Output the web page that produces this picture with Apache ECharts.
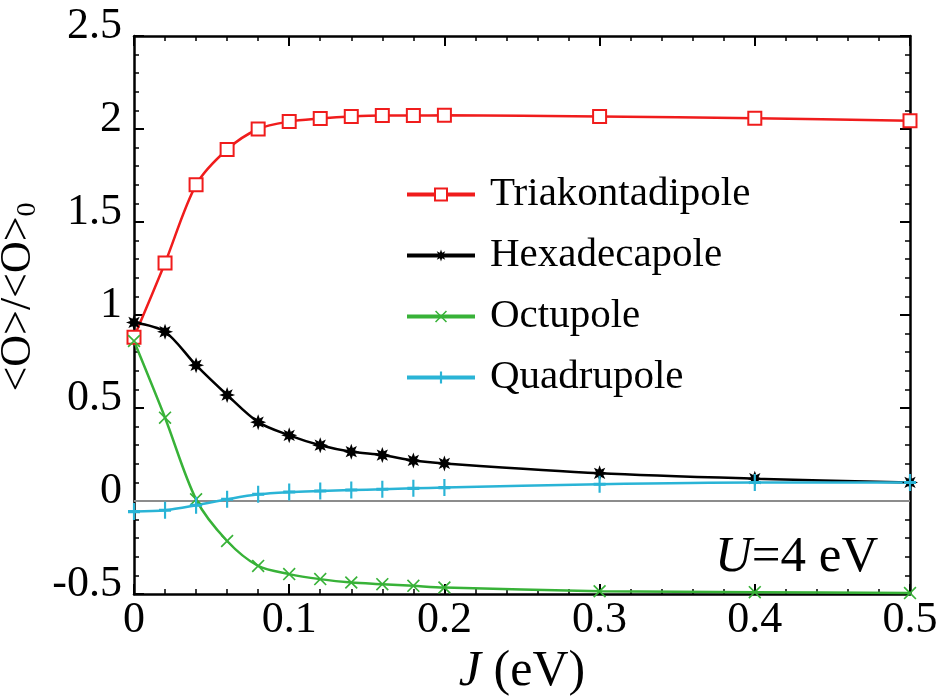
<!DOCTYPE html>
<html>
<head>
<meta charset="utf-8">
<script src="https://cdn.jsdelivr.net/npm/echarts@6/dist/echarts.min.js"></script>
<style>
  html, body { margin: 0; padding: 0; background: #fff; }
  #chart { width: 948px; height: 698px; }
</style>
</head>
<body>
<div id="chart"></div>
<script>
// Coupling strength J (eV)
const jValues = [0, 0.02, 0.04, 0.06, 0.08, 0.1, 0.12, 0.14, 0.16, 0.18, 0.2, 0.3, 0.4, 0.5];

// Normalised multipole order parameters <O>/<O>0
const triakontadipole = [0.88, 1.28, 1.70, 1.89, 2.00, 2.04, 2.056, 2.067, 2.072, 2.072, 2.074, 2.067, 2.058, 2.045];
const hexadecapole   = [0.96, 0.91, 0.73, 0.57, 0.424, 0.353, 0.30, 0.265, 0.247, 0.218, 0.202, 0.149, 0.12, 0.10];
const octupole       = [0.86, 0.448, 0.009, -0.215, -0.349, -0.393, -0.42, -0.438, -0.447, -0.456, -0.465, -0.485, -0.49, -0.495];
const quadrupole     = [-0.057, -0.05, -0.023, 0.009, 0.036, 0.048, 0.054, 0.059, 0.063, 0.068, 0.072, 0.09, 0.099, 0.099];

const seriesNames = ['Triakontadipole', 'Hexadecapole', 'Octupole', 'Quadrupole'];
const xTicks = { min: 0, max: 0.5, step: 0.1 };
const yTicks = { min: -0.5, max: 2.5, step: 0.5 };

const serif = 'Liberation Serif, Times New Roman, serif';

const starPath = 'path://M20,10 L14.62,11.91 L17.07,17.07 L11.91,14.62 L10,20 L8.09,14.62 L2.93,17.07 L5.38,11.91 L0,10 L5.38,8.09 L2.93,2.93 L8.09,5.38 L10,0 L11.91,5.38 L17.07,2.93 L14.62,8.09 Z';
const crossPath = 'path://M0,1.8 L1.8,0 L10,8.2 L18.2,0 L20,1.8 L11.8,10 L20,18.2 L18.2,20 L10,11.8 L1.8,20 L0,18.2 L8.2,10 Z';
const plusPath = 'path://M8.2,0 L11.8,0 L11.8,8.2 L20,8.2 L20,11.8 L11.8,11.8 L11.8,20 L8.2,20 L8.2,11.8 L0,11.8 L0,8.2 L8.2,8.2 Z';

function pairs(vals) { return jValues.map((x, i) => [x, vals[i]]); }

function fmt(v) { return String(Math.round(v * 10) / 10); }

function lineSeries(name, vals, color, symbol, size, hollow) {
  return {
    name: name,
    type: 'line',
    data: pairs(vals),
    smooth: 0.3,
    symbol: symbol,
    symbolSize: size,
    showAllSymbol: true,
    lineStyle: { color: color, width: 2.5 },
    itemStyle: hollow
      ? { color: '#fff', borderColor: color, borderWidth: 2 }
      : { color: color, borderWidth: 0 },
    emphasis: { disabled: true },
    z: 3
  };
}

function makeAxis(kind, pos, showLabels, t) {
  const label = {
    show: showLabels,
    fontFamily: serif, fontSize: 44, color: '#000',
    margin: kind === 'x' ? 4 : 12,
    formatter: fmt
  };
  if (kind === 'y') {
    // value labels sit a little above their tick marks
    label.formatter = v => '{v|' + fmt(v) + '}';
    label.rich = { v: { fontFamily: serif, fontSize: 44, color: '#000', padding: [0, 0, 20, 0] } };
  }
  return {
    type: 'value',
    position: pos,
    min: t.min, max: t.max, interval: t.step,
    axisLine: { show: true, onZero: false, lineStyle: { color: '#000', width: 2.5 } },
    axisTick: { show: true, inside: true, length: 10, lineStyle: { color: '#000', width: 2 } },
    minorTick: { show: true, splitNumber: 5, length: 5, lineStyle: { color: '#000', width: 1.5 } },
    splitLine: { show: false },
    axisLabel: label
  };
}

const chart = echarts.init(document.getElementById('chart'));

const xBottom = makeAxis('x', 'bottom', true, xTicks);
xBottom.name = '{i|J}{n| (eV)}';
xBottom.nameLocation = 'middle';
xBottom.nameGap = 52;
xBottom.nameTextStyle = {
  rich: {
    i: { fontFamily: serif, fontStyle: 'italic', fontSize: 50, color: '#000' },
    n: { fontFamily: serif, fontSize: 50, color: '#000' }
  }
};

const yLeft = makeAxis('y', 'left', true, yTicks);
yLeft.name = '{m|<O>/<O>}{s|0}';
yLeft.nameLocation = 'middle';
yLeft.nameRotate = 90;
yLeft.nameGap = 55;
yLeft.nameTextStyle = {
  padding: [0, 0, 0, 36],
  rich: {
    m: { fontFamily: serif, fontSize: 44, color: '#000' },
    s: { fontFamily: serif, fontSize: 28, color: '#000', padding: [18, 0, 0, 0] }
  }
};

chart.setOption({
  animation: false,
  backgroundColor: '#fff',
  grid: { left: 134, right: 38, top: 36, bottom: 104, outerBoundsMode: 'none', containLabel: false },
  xAxis: [xBottom, makeAxis('x', 'top', false, xTicks)],
  yAxis: [yLeft, makeAxis('y', 'right', false, yTicks)],
  legend: {
    orient: 'vertical',
    left: 400,
    top: 169,
    itemWidth: 68,
    itemHeight: 15,
    itemGap: 20,
    data: seriesNames,
    lineStyle: { width: 4 },
    textStyle: { fontFamily: serif, fontSize: 41, color: '#000', lineHeight: 41, padding: [0, 0, 0, 10] }
  },
  series: [
    lineSeries(seriesNames[0], triakontadipole, '#f01c1c', 'rect', 13, true),
    lineSeries(seriesNames[1], hexadecapole, '#000000', starPath, 16, false),
    lineSeries(seriesNames[2], octupole, '#38b238', crossPath, 13, false),
    Object.assign(lineSeries(seriesNames[3], quadrupole, '#2ab4d6', plusPath, [12, 17], false), {
      markLine: {
        silent: true,
        symbol: 'none',
        label: { show: false },
        lineStyle: { color: '#8c8c8c', width: 2, type: 'solid' },
        data: [{ yAxis: 0 }],
        z: 1
      }
    })
  ],
  graphic: [{
    type: 'text',
    left: 715,
    top: 532,
    style: {
      text: '{i|U}{n|=4 eV}',
      rich: {
        i: { fontFamily: serif, fontStyle: 'italic', fontSize: 51, fill: '#000' },
        n: { fontFamily: serif, fontSize: 51, fill: '#000' }
      }
    }
  }]
});
</script>
</body>
</html>
